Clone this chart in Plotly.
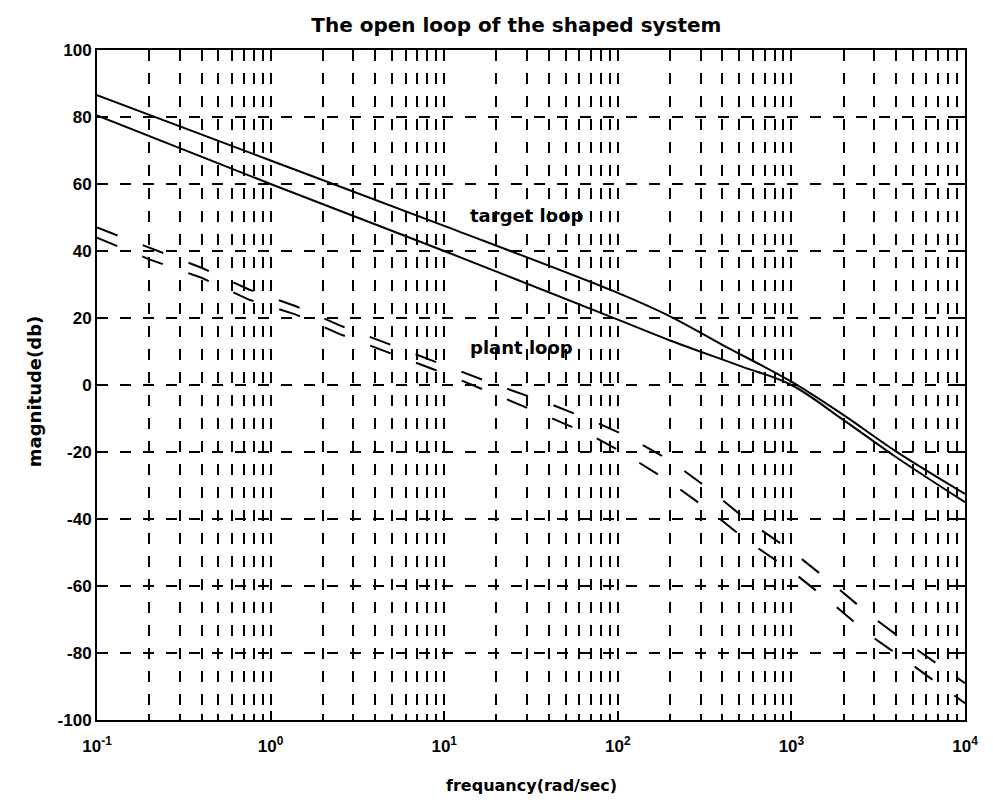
import numpy as np
import plotly.graph_objects as go

# Target loop magnitude (dB) vs frequency (rad/sec)
target_freq = [0.1, 1, 10, 100, 200, 400, 1000, 2000, 4000, 10000]
target_mag = [86.5, 67.0, 47.5, 27.5, 20.5, 12.0, 1.0, -9.0, -19.8, -32.5]

# Plant loop magnitude (dB)
plant_freq = [0.1, 1, 10, 100, 200, 500, 1000, 2000, 4000, 10000]
plant_mag = [80.5, 60.0, 40.0, 19.5, 13.3, 5.8, 0.0, -10.5, -21.5, -35.0]

# Pair of dashed bounds (dB)
bound_freq = [0.1, 0.2, 0.4, 0.75, 1.4, 2.5, 5, 10, 20, 40, 70, 110, 200,
              340, 560, 1000, 1700, 2800, 4800, 10000]
bound_upper = [47, 41, 35, 28.5, 23.5, 17.8, 11.8, 6.0, 0.0, -5.5, -10.5,
               -15, -22.5, -31.3, -40.5, -49.5, -59, -68.5, -77.5, -89]
bound_lower = [44, 37.5, 32, 25.5, 21, 15.2, 9.3, 3.5, -3.0, -9.5, -15,
               -20.5, -29, -37.6, -46.6, -55.5, -65, -74.5, -83, -95]

x_tickvals = [0.1, 1, 10, 100, 1000, 10000]
x_ticktext = ["10<sup>-1</sup>", "10<sup>0</sup>", "10<sup>1</sup>",
              "10<sup>2</sup>", "10<sup>3</sup>", "10<sup>4</sup>"]
y_tickvals = [-100, -80, -60, -40, -20, 0, 20, 40, 60, 80, 100]
y_ticktext = ["-100", "-80", "-60", "-40", "-20", "0", "20", "40", "60",
              "80", "100"]

TICK_FONT = "Liberation Sans, Arial, Helvetica, sans-serif"
TEXT_FONT = "DejaVu Sans, Verdana, sans-serif"
GRID_DASH = "11px,12px"
BOUND_DASH = "22px,27px"

fig = go.Figure()

for ys in (bound_upper, bound_lower):
    fig.add_trace(go.Scatter(
        x=bound_freq, y=ys, mode="lines",
        line=dict(color="black", width=2, dash=BOUND_DASH),
        showlegend=False, hoverinfo="skip"))

fig.add_trace(go.Scatter(
    x=target_freq, y=target_mag, mode="lines", line_shape="spline",
    line=dict(color="black", width=2), showlegend=False))
fig.add_trace(go.Scatter(
    x=plant_freq, y=plant_mag, mode="lines", line_shape="spline",
    line=dict(color="black", width=2), showlegend=False))

axis_common = dict(
    showline=True, linecolor="black", linewidth=2, mirror="allticks",
    ticks="inside", tickcolor="black", tickwidth=1.5, ticklen=9,
    showgrid=True, gridcolor="black", gridwidth=1.5, griddash=GRID_DASH,
    zeroline=False,
    tickfont=dict(family=TICK_FONT, size=17, color="black", weight="bold"),
)

fig.update_xaxes(
    type="log", range=[-1, 4], tickvals=x_tickvals, ticktext=x_ticktext,
    ticklabelstandoff=10,
    minor=dict(ticks="inside", ticklen=6, tickcolor="black", dtick="D1",
               showgrid=True, gridcolor="black", gridwidth=1.5,
               griddash=GRID_DASH),
    **axis_common)
fig.update_yaxes(range=[-100, 100], tickvals=y_tickvals,
                 ticktext=y_ticktext, **axis_common)

fig.add_annotation(x=np.log10(13.8), y=50.5, text="target loop",
                   showarrow=False, xanchor="left",
                   font=dict(family=TEXT_FONT, size=18, color="black",
                             weight="bold"))
fig.add_annotation(x=np.log10(13.8), y=11.2, text="plant loop",
                   showarrow=False, xanchor="left",
                   font=dict(family=TEXT_FONT, size=18, color="black",
                             weight="bold"))

fig.add_annotation(xref="paper", yref="paper", x=0.5, y=-0.0975,
                   text="frequancy(rad/sec)", showarrow=False,
                   yanchor="middle",
                   font=dict(family=TEXT_FONT, size=16, color="black",
                             weight="bold"))
fig.add_annotation(xref="paper", yref="paper", x=-0.072, y=0.49,
                   text="magnitude(db)", showarrow=False, textangle=-90,
                   xanchor="center", yanchor="middle",
                   font=dict(family=TEXT_FONT, size=18, color="black",
                             weight="bold"))

fig.update_layout(
    width=993, height=809,
    margin=dict(l=97, r=28, t=50, b=89),
    paper_bgcolor="white", plot_bgcolor="white",
    title=dict(text="The open loop of the shaped system",
               x=0.52, xanchor="center", y=1 - 25 / 809, yanchor="middle",
               font=dict(family=TEXT_FONT, size=20, color="black",
                         weight="bold")),
)

fig.write_html("out.html")
